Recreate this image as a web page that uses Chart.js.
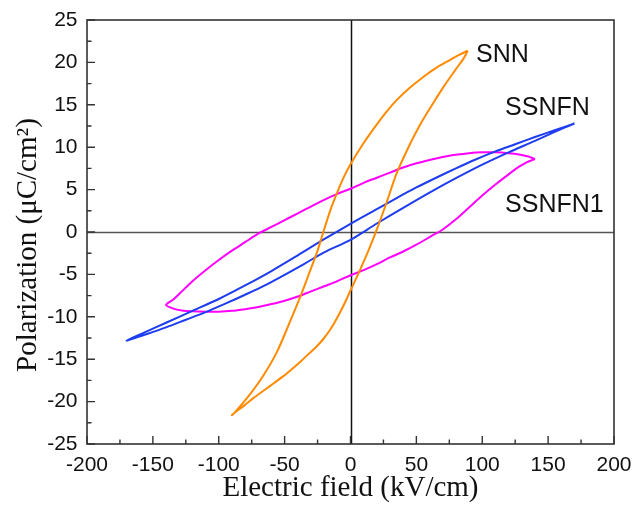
<!DOCTYPE html>
<html><head><meta charset="utf-8">
<script src="https://cdn.jsdelivr.net/npm/chart.js@4/dist/chart.umd.min.js"></script>
<style>html,body{margin:0;padding:0;background:#fff}</style>
</head><body>
<canvas id="c" width="634" height="506" style="width:634px;height:506px;display:block"></canvas>
<script>
// ---- tick labels ----
const xTicks = [-200, -150, -100, -50, 0, 50, 100, 150, 200];
const yTicks = [-25, -20, -15, -10, -5, 0, 5, 10, 15, 20, 25];

// ---- SNN (closed loop: upper branch +Emax -> -Emax, then lower branch back) ----
const snnE = [89, 82, 75, 65, 55, 45, 35, 28, 20, 10, 0, -5, -10, -15, -20, -25, -30, -38, -46, -56, -66, -76, -84, -88, -90,
              -87, -81, -73, -65, -58, -51, -44, -38, -32, -25.7, -20, -16, -12, -8, -4, 0, 7, 14, 20, 27, 35, 44, 53, 62, 71, 80, 86, 89];
const snnP = [21.4, 20.85, 20.25, 19.35, 18.25, 17.0, 15.55, 14.3, 12.7, 10.5, 8.0, 6.5, 4.7, 2.7, 0.3, -2.2, -4.3, -7.6, -10.6, -14.2, -16.9, -19.1, -20.6, -21.3, -21.6,
              -21.2, -20.5, -19.5, -18.6, -17.8, -17.0, -16.1, -15.3, -14.4, -13.5, -12.5, -11.65, -10.65, -9.5, -8.25, -6.9, -4.55, -2.05, 0.3, 3.3, 6.9, 10.0, 12.7, 15.0, 17.2, 19.2, 20.5, 21.4];

// ---- SSNFN ----
const ssnfnE = [170, 155, 140, 125, 110, 95, 80, 65, 50, 35, 20, 0, -20, -40, -60, -80, -100, -120, -140, -155, -170,
                -155, -140, -125, -110, -95, -80, -65, -50, -35, -20, 0, 20, 40, 60, 80, 100, 120, 140, 155, 170];
const ssnfnP = [12.8, 12.0, 11.2, 10.35, 9.5, 8.55, 7.5, 6.4, 5.25, 4.0, 2.7, 0.97, -0.85, -2.75, -4.6, -6.3, -7.9, -9.3, -10.7, -11.75, -12.8,
                -12.05, -11.25, -10.35, -9.45, -8.45, -7.4, -6.3, -5.05, -3.75, -2.4, -0.92, 1.0, 2.85, 4.65, 6.35, 7.95, 9.4, 10.75, 11.8, 12.8];

// ---- SSNFN1 ----
const ssnfn1E = [140, 135, 128, 120, 110, 100, 90, 80, 70, 60, 50, 40, 30, 20, 10, 0, -10, -20, -30, -40, -50, -60, -70, -80, -90, -100, -110, -120, -128, -134, -140,
                 -135, -128, -120, -110, -100, -90, -80, -70, -60, -50, -40, -30, -20, -10, 0, 10, 20, 30, 40, 50, 60, 70, 80, 90, 100, 110, 120, 128, 134, 140];
const ssnfn1P = [8.6, 8.9, 9.15, 9.3, 9.4, 9.4, 9.3, 9.1, 8.85, 8.5, 8.1, 7.6, 7.0, 6.4, 5.8, 5.1, 4.5, 3.8, 3.0, 2.2, 1.4, 0.6, -0.2, -1.2, -2.2, -3.3, -4.5, -5.8, -7.0, -7.9, -8.6,
                 -9.0, -9.25, -9.35, -9.4, -9.4, -9.3, -9.1, -8.85, -8.5, -8.1, -7.6, -7.0, -6.4, -5.8, -5.1, -4.5, -3.8, -3.0, -2.3, -1.5, -0.6, 0.3, 1.5, 2.9, 4.3, 5.6, 6.8, 7.7, 8.25, 8.6];

const seriesNames = ['SNN', 'SSNFN', 'SSNFN1'];
const yTitle = 'Polarization (μC/cm²)';

function pts(E, P) { return E.map((e, i) => ({x: e, y: P[i]})); }

const frame = {
  id: 'frame',
  beforeDatasetsDraw(chart) {
    const {ctx, chartArea: a, scales: {x, y}} = chart;
    ctx.save();
    ctx.lineWidth = 1.5;
    ctx.strokeStyle = '#555';
    const y0 = Math.round(y.getPixelForValue(0)) + 0.5;
    ctx.beginPath(); ctx.moveTo(a.left, y0); ctx.lineTo(a.right, y0); ctx.stroke();
    ctx.strokeStyle = '#111';
    const x0 = Math.round(x.getPixelForValue(0)) + 0.5;
    ctx.beginPath(); ctx.moveTo(x0, a.top); ctx.lineTo(x0, a.bottom); ctx.stroke();
    ctx.restore();
  },
  afterDatasetsDraw(chart) {
    const {ctx, chartArea: a, scales: {x, y}} = chart;
    ctx.save();
    ctx.strokeStyle = '#333';
    ctx.lineWidth = 1.6;
    ctx.strokeRect(a.left, a.top, a.right - a.left, a.bottom - a.top);
    ctx.lineWidth = 1.4;
    ctx.beginPath();
    for (let i = 0; i < xTicks.length; i++) {
      const px = x.getPixelForValue(xTicks[i]);
      ctx.moveTo(px, a.bottom); ctx.lineTo(px, a.bottom - 8);
      if (i < xTicks.length - 1) {
        const m = x.getPixelForValue((xTicks[i] + xTicks[i + 1]) / 2);
        ctx.moveTo(m, a.bottom); ctx.lineTo(m, a.bottom - 4.5);
      }
    }
    for (let i = 0; i < yTicks.length; i++) {
      const py = y.getPixelForValue(yTicks[i]);
      ctx.moveTo(a.left, py); ctx.lineTo(a.left + 8, py);
      if (i < yTicks.length - 1) {
        const m = y.getPixelForValue((yTicks[i] + yTicks[i + 1]) / 2);
        ctx.moveTo(a.left, m); ctx.lineTo(a.left + 4.5, m);
      }
    }
    ctx.stroke();
    // series labels
    ctx.fillStyle = '#111';
    ctx.font = '25px "Liberation Sans", Arial, sans-serif';
    ctx.textBaseline = 'alphabetic';
    ctx.textAlign = 'left';
    const lab = [[95.3, 20.1], [117.3, 13.85], [117.3, 2.3]];
    seriesNames.forEach((n, i) => {
      ctx.fillText(n, x.getPixelForValue(lab[i][0]), y.getPixelForValue(lab[i][1]));
    });
    // y-axis title
    ctx.font = '29px "Liberation Serif", "Times New Roman", serif';
    ctx.textAlign = 'center';
    ctx.textBaseline = 'middle';
    ctx.translate(28, (a.top + a.bottom) / 2 + 13);
    ctx.rotate(-Math.PI / 2);
    ctx.fillText(yTitle, 0, 0);
    ctx.restore();
  }
};

new Chart(document.getElementById('c'), {
  type: 'scatter',
  data: {
    datasets: [
      {label: seriesNames[0], data: pts(snnE, snnP), borderColor: '#FF8A00'},
      {label: seriesNames[1], data: pts(ssnfnE, ssnfnP), borderColor: '#1E3CF0'},
      {label: seriesNames[2], data: pts(ssnfn1E, ssnfn1P), borderColor: '#FF00FF'}
    ].map(d => Object.assign(d, {showLine: true, pointRadius: 0, borderWidth: 2, tension: 0.3, fill: false}))
  },
  plugins: [frame],
  options: {
    responsive: false,
    animation: false,
    devicePixelRatio: 1,
    layout: {padding: {top: 20, right: 20, left: 0, bottom: 0}},
    plugins: {legend: {display: false}, tooltip: {enabled: false}},
    scales: {
      x: {
        type: 'linear', min: -200, max: 200,
        afterBuildTicks: s => { s.ticks = xTicks.map(v => ({value: v})); },
        afterFit: s => { s.height = 62; s.paddingLeft = 0; s.paddingRight = 0; },
        grid: {display: false, drawTicks: false},
        border: {display: false},
        ticks: {padding: 9, color: '#111', font: {family: '"Liberation Sans", Arial, sans-serif', size: 21}, maxRotation: 0, autoSkip: false},
        title: {display: true, text: 'Electric field (kV/cm)', color: '#111', padding: {top: 0, bottom: 0},
                font: {family: '"Liberation Serif", "Times New Roman", serif', size: 29}}
      },
      y: {
        type: 'linear', min: -25, max: 25,
        afterBuildTicks: s => { s.ticks = yTicks.map(v => ({value: v})); },
        afterFit: s => { s.width = 87; s.paddingTop = 0; s.paddingBottom = 0; },
        grid: {display: false, drawTicks: false},
        border: {display: false},
        ticks: {padding: 9.5, color: '#111', font: {family: '"Liberation Sans", Arial, sans-serif', size: 21}, autoSkip: false},
        title: {display: false}
      }
    }
  }
});
</script>
</body></html>
